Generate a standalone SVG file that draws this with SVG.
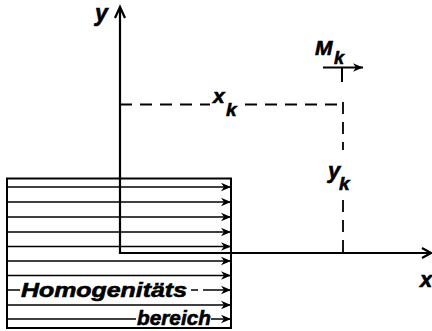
<svg xmlns="http://www.w3.org/2000/svg" width="432" height="331" viewBox="0 0 432 331">
<style>
.t{font-family:"Liberation Sans","DejaVu Sans",sans-serif;font-weight:bold;font-style:italic;fill:#000;stroke:#000;stroke-width:0.6}
.flow{stroke:#000;stroke-width:1.5;fill:none;marker-end:url(#ah)}
.seg{stroke:#000;stroke-width:1.5;fill:none}
.axis{stroke:#000;stroke-width:2.2;fill:none}
.dash{stroke:#000;stroke-width:1.8;fill:none;stroke-dasharray:12 8}
</style>
<defs>
<marker id="ah" viewBox="-11 -5 12 10" refX="0" refY="0" markerWidth="12" markerHeight="10" markerUnits="userSpaceOnUse" orient="auto">
<path d="M0,0 L-10,-4.2 L-7,0 L-10,4.2 Z" fill="#000"/>
</marker>
</defs>
<rect width="432" height="331" fill="#fff"/>
<g id="homogenitaetsbereich">
<rect x="7" y="178.5" width="224" height="149.5" fill="none" stroke="#000" stroke-width="2"/>
<line class="flow" x1="7" y1="187" x2="231" y2="187"/>
<line class="flow" x1="7" y1="202" x2="231" y2="202"/>
<line class="flow" x1="7" y1="217" x2="231" y2="217"/>
<line class="flow" x1="7" y1="232" x2="231" y2="232"/>
<line class="flow" x1="7" y1="246.5" x2="231" y2="246.5"/>
<line class="flow" x1="7" y1="261" x2="231" y2="261"/>
<line class="flow" x1="7" y1="275.5" x2="231" y2="275.5"/>
<line class="seg" x1="7" y1="290" x2="20" y2="290"/>
<line class="seg" x1="191" y1="290" x2="198" y2="290"/>
<line class="flow" x1="203" y1="290" x2="231" y2="290"/>
<line class="flow" x1="7" y1="305" x2="231" y2="305"/>
<line class="seg" x1="7" y1="319" x2="136" y2="319"/>
<line class="flow" x1="211" y1="319" x2="231" y2="319"/>
<text class="t" x="21" y="297" font-size="21" textLength="166" lengthAdjust="spacingAndGlyphs">Homogenitäts</text>
<text class="t" x="137" y="325" font-size="21" textLength="74" lengthAdjust="spacingAndGlyphs">bereich</text>
</g>
<g id="connectors">
<path class="axis" d="M120,7 V253 H431"/>
<path class="axis" d="M115,18 L120,7 L125,18"/>
<path class="axis" d="M422,248 L431,253 L422,258"/>
<path class="dash" d="M120,104.5 H210"/>
<path class="dash" d="M245,104.5 H338"/>
<path class="dash" d="M343,102 V150"/>
<path class="dash" d="M343,200 V253"/>
<line x1="323" y1="67.5" x2="363" y2="67.5" stroke="#000" stroke-width="2.2" marker-end="url(#ah)"/>
<line x1="342" y1="67.5" x2="342" y2="82" stroke="#000" stroke-width="2"/>
</g>
<g id="labels">
<text class="t" x="95" y="21" font-size="23">y</text>
<text class="t" x="213" y="103" font-size="21">x</text>
<text class="t" x="226" y="116" font-size="19">k</text>
<text class="t" x="315" y="55" font-size="21">M</text>
<text class="t" x="334" y="64" font-size="18">k</text>
<text class="t" x="328" y="178" font-size="22">y</text>
<text class="t" x="339" y="190" font-size="19">k</text>
<text class="t" x="420" y="287" font-size="22">x</text>
</g>
</svg>
